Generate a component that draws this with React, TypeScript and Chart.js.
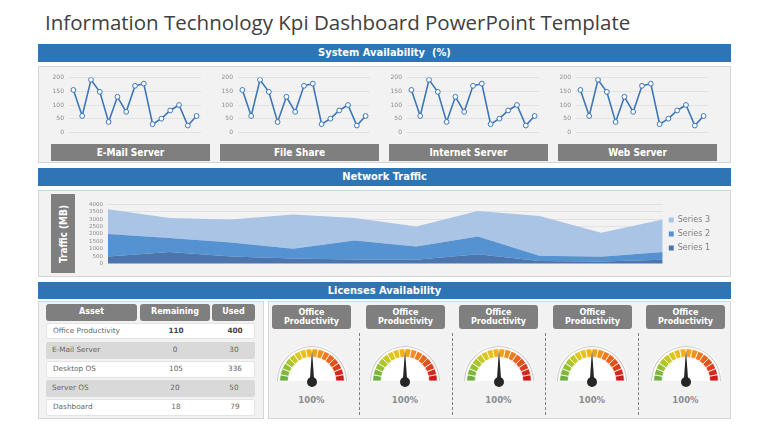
import React, { useEffect, useRef } from "react";
import { Chart, registerables } from "chart.js";

Chart.register(...registerables);
Chart.defaults.font.family = "DejaVu Sans";

// ---------- data ----------
const serverNames = ["E-Mail Server", "File Share", "Internet Server", "Web Server"];
const availabilityLabels = ["1", "2", "3", "4", "5", "6", "7", "8", "9", "10", "11", "12", "13", "14", "15"];
const availabilityValues = [155, 60, 192, 148, 38, 130, 75, 170, 178, 30, 50, 80, 100, 25, 60];

const trafficLabels = ["1", "2", "3", "4", "5", "6", "7", "8", "9", "10"];
const trafficSeries1 = [490, 780, 490, 350, 290, 270, 640, 190, 140, 270];
const trafficSeries2 = [1510, 950, 930, 660, 1280, 880, 1190, 340, 330, 510];
const trafficSeries3 = [1670, 1340, 1550, 2310, 1500, 1360, 1720, 2690, 1610, 2190];
const trafficSeriesNames = ["Series 1", "Series 2", "Series 3"];

const tableHeaders = ["Asset", "Remaining", "Used"];
const licenseAssets = ["Office Productivity", "E-Mail Server", "Desktop OS", "Server OS", "Dashboard"];
const licenseRemaining = [110, 0, 105, 20, 18];
const licenseUsed = [400, 30, 336, 50, 79];

const gaugeTitles = ["Office Productivity", "Office Productivity", "Office Productivity", "Office Productivity", "Office Productivity"];
const gaugeReadings = ["100%", "100%", "100%", "100%", "100%"];
const gaugeNeedle = [50, 50, 50, 50, 50];
const gaugeSegments = [1, 1, 1, 1, 1, 1, 1, 1, 1, 1, 1, 1, 1, 1, 1, 1];
const gaugeColors = [
  "#6fae45", "#7fb73c", "#95c033", "#aec52d", "#c6c92a", "#dbc624", "#eabf1d", "#f3b21a",
  "#f5a21b", "#f2901d", "#ee7c1f", "#e8671f", "#e2521e", "#dc3e1c", "#d52a1a", "#cc1b1b",
];

// ---------- styles ----------
const BLUE = "#2e75b6";
const GRAY = "#7f7f7f";
const PANEL = "#f2f2f2";
const PANEL_BORDER = "#d6d6d6";
const NARROW = '"Liberation Sans Narrow", "DejaVu Sans Condensed", sans-serif';

function ChartCanvas({ config, style }: { config: () => any; style: React.CSSProperties }) {
  const ref = useRef<HTMLCanvasElement>(null);
  useEffect(() => {
    const chart = new Chart(ref.current as HTMLCanvasElement, config());
    return () => chart.destroy();
  }, []);
  return (
    <div style={{ position: "absolute", ...style }}>
      <canvas ref={ref} />
    </div>
  );
}

const lineConfig = () => ({
  type: "line",
  data: {
    labels: availabilityLabels,
    datasets: [
      {
        data: availabilityValues,
        borderColor: "#3b76b8",
        borderWidth: 1.6,
        pointRadius: 2.4,
        pointBackgroundColor: "#ffffff",
        pointBorderColor: "#3b76b8",
        pointBorderWidth: 1,
        tension: 0,
      },
    ],
  },
  options: {
    animation: false,
    responsive: true,
    maintainAspectRatio: false,
    layout: { padding: { top: 6.5, bottom: 5, right: 4, left: 0 } },
    plugins: { legend: { display: false }, tooltip: { enabled: false } },
    scales: {
      x: { display: false, offset: true },
      y: {
        min: 0,
        max: 200,
        ticks: { stepSize: 50, autoSkip: false, font: { size: 6 }, color: "#8c8c8c", padding: 5 },
        grid: { color: "#e2e2e2", drawTicks: false },
        border: { display: false },
        afterFit: (s: any) => {
          s.width = 25;
        },
      },
    },
  },
});

const areaConfig = () => ({
  type: "line",
  data: {
    labels: trafficLabels,
    datasets: [
      { label: trafficSeriesNames[0], data: trafficSeries1, backgroundColor: "#4a76ad", borderColor: "#4a76ad", fill: "origin" },
      { label: trafficSeriesNames[1], data: trafficSeries2, backgroundColor: "#5592d2", borderColor: "#5592d2", fill: "-1" },
      { label: trafficSeriesNames[2], data: trafficSeries3, backgroundColor: "#aac4e6", borderColor: "#aac4e6", fill: "-1" },
    ].map((d) => ({ ...d, borderWidth: 0, pointRadius: 0, tension: 0 })),
  },
  options: {
    animation: false,
    responsive: true,
    maintainAspectRatio: false,
    layout: { padding: { top: 5.7, bottom: 5.7, right: 10, left: 0 } },
    plugins: {
      tooltip: { enabled: false },
      legend: {
        position: "right",
        reverse: true,
        labels: { boxWidth: 5, boxHeight: 5, padding: 6, color: "#7f7f7f", font: { size: 8 } },
      },
    },
    scales: {
      x: { display: false },
      y: {
        stacked: true,
        min: 0,
        max: 4000,
        ticks: {
          stepSize: 500,
          autoSkip: false,
          font: { size: 5.5 },
          color: "#8c8c8c",
          padding: 5,
          callback: (v: any) => String(v),
        },
        grid: { color: "#e2e2e2", drawTicks: false },
        border: { display: false },
        afterFit: (s: any) => {
          s.width = 30;
        },
      },
    },
  },
});

const gaugePlugin = {
  id: "gaugeDecor",
  beforeDatasetsDraw(chart: any) {
    const m = chart.getDatasetMeta(0).data[0];
    if (!m) return;
    const ctx = chart.ctx;
    ctx.save();
    ctx.fillStyle = "#ffffff";
    ctx.beginPath();
    ctx.arc(m.x, m.y, m.outerRadius + 1, Math.PI, 2 * Math.PI);
    ctx.closePath();
    ctx.fill();
    ctx.restore();
  },
  afterDatasetsDraw(chart: any, _args: any, opts: any) {
    const m = chart.getDatasetMeta(2).data[0];
    if (!m) return;
    const ctx = chart.ctx;
    const cx = m.x;
    const cy = m.y;
    const ang = Math.PI + (opts.value / 100) * Math.PI;
    const len = m.outerRadius - 1;
    const w = 2.2;
    ctx.save();
    ctx.fillStyle = "#262626";
    ctx.beginPath();
    ctx.moveTo(cx + Math.cos(ang) * len, cy + Math.sin(ang) * len);
    ctx.lineTo(cx + Math.cos(ang + Math.PI / 2) * w, cy + Math.sin(ang + Math.PI / 2) * w);
    ctx.lineTo(cx + Math.cos(ang - Math.PI / 2) * w, cy + Math.sin(ang - Math.PI / 2) * w);
    ctx.closePath();
    ctx.fill();
    ctx.beginPath();
    ctx.arc(cx, cy + 1, 5, 0, 2 * Math.PI);
    ctx.fill();
    ctx.restore();
  },
};

const gaugeConfig = (i: number) => () => ({
  type: "doughnut",
  data: {
    labels: gaugeSegments.map((_, k) => String(k + 1)),
    datasets: [
      { data: [1], backgroundColor: ["#c8c8c8"], borderWidth: 0, weight: 0.12 },
      { data: [1], backgroundColor: ["rgba(0,0,0,0)"], borderWidth: 0, weight: 0.2 },
      { data: gaugeSegments, backgroundColor: gaugeColors, borderColor: "#ffffff", borderWidth: 0.8, weight: 1 },
    ],
  },
  options: {
    animation: false,
    responsive: true,
    maintainAspectRatio: false,
    rotation: -90,
    circumference: 180,
    cutout: "68%",
    layout: { padding: { top: 0, bottom: 8, left: 0, right: 0 } },
    plugins: { legend: { display: false }, tooltip: { enabled: false }, gaugeDecor: { value: gaugeNeedle[i] } },
  },
  plugins: [gaugePlugin],
});

const abs = (s: React.CSSProperties): React.CSSProperties => ({ position: "absolute", boxSizing: "border-box", ...s });

function BlueBar({ top, height, text }: { top: number; height: number; text: string }) {
  return (
    <div
      style={abs({
        left: 38,
        top,
        width: 693,
        height,
        background: BLUE,
        color: "#fff",
        fontFamily: NARROW,
        fontWeight: 700,
        fontSize: 11,
        lineHeight: `${height}px`,
        textAlign: "center",
        whiteSpace: "pre",
      })}
    >
      {text}
    </div>
  );
}

const gaugeCenters = [311.5, 405, 498.5, 592, 685.5];
const gaugeBoxLefts = [272, 366, 459, 553, 646];
const separatorsX = [359, 452, 545, 638];
const rowTops = [322.5, 342, 361, 380, 399];

export default function App() {
  return (
    <div style={abs({ left: 0, top: 0, width: 768, height: 432, background: "#ffffff", overflow: "hidden", fontFamily: "DejaVu Sans" })}>
      <div
        style={abs({
          left: 45,
          top: 7.5,
          fontFamily: '"Open Sans", sans-serif',
          fontSize: 20.5,
          color: "#404040",
          whiteSpace: "nowrap",
        })}
      >
        Information Technology Kpi Dashboard PowerPoint Template
      </div>

      <BlueBar top={44} height={18} text="System Availability  (%)" />
      <div style={abs({ left: 38, top: 66, width: 693, height: 97, background: PANEL, border: `1px solid ${PANEL_BORDER}` })} />
      {serverNames.map((n, i) => (
        <React.Fragment key={n}>
          <ChartCanvas config={lineConfig} style={{ left: 44 + i * 169, top: 69, width: 162, height: 72 }} />
          <div
            style={abs({
              left: 51 + i * 169,
              top: 144,
              width: 159,
              height: 17,
              background: GRAY,
              color: "#fff",
              fontFamily: "DejaVu Sans Condensed",
              fontWeight: 700,
              fontSize: 10,
              lineHeight: "17px",
              textAlign: "center",
            })}
          >
            {n}
          </div>
        </React.Fragment>
      ))}

      <BlueBar top={168} height={18} text="Network Traffic" />
      <div style={abs({ left: 38, top: 190, width: 693, height: 87, background: PANEL, border: `1px solid ${PANEL_BORDER}` })} />
      <div style={abs({ left: 51, top: 194, width: 24, height: 79, background: GRAY })}>
        <div
          style={abs({
            left: 12,
            top: 39.5,
            transform: "translate(-50%, -50%) rotate(-90deg)",
            color: "#fff",
            fontFamily: "DejaVu Sans Condensed",
            fontWeight: 700,
            fontSize: 10,
            whiteSpace: "nowrap",
          })}
        >
          Traffic (MB)
        </div>
      </div>
      <ChartCanvas config={areaConfig} style={{ left: 78, top: 196, width: 652, height: 76 }} />

      <BlueBar top={282} height={17} text="Licenses Availability" />
      <div style={abs({ left: 38, top: 301, width: 226, height: 118, background: PANEL, border: `1px solid ${PANEL_BORDER}` })} />
      <div style={abs({ left: 268, top: 301, width: 463, height: 118, background: PANEL, border: `1px solid ${PANEL_BORDER}` })} />

      {tableHeaders.map((h, k) => {
        const lefts = [46, 140, 212];
        const widths = [91, 70, 43];
        return (
          <div
            key={h}
            style={abs({
              left: lefts[k],
              top: 304,
              width: widths[k],
              height: 16.5,
              background: GRAY,
              borderRadius: 3,
              color: "#fff",
              fontWeight: 700,
              fontSize: 8,
              lineHeight: "16.5px",
              textAlign: "center",
            })}
          >
            {h}
          </div>
        );
      })}
      {licenseAssets.map((a, r) => (
        <div
          key={a}
          style={abs({
            left: 46,
            top: rowTops[r],
            width: 209,
            height: 16.5,
            background: r % 2 === 1 ? "#d9d9d9" : "#ffffff",
            border: r % 2 === 1 ? "none" : "1px solid #e4e4e4",
            borderRadius: 2,
            fontSize: 7.3,
            color: "#666",
            lineHeight: "16.5px",
          })}
        >
          <span style={abs({ left: 6, top: r % 2 === 1 ? 0 : -1 })}>{a}</span>
          <span style={abs({ left: 129, width: 0, top: r % 2 === 1 ? 0 : -1, display: "flex", justifyContent: "center", fontWeight: r === 0 ? 700 : 400, color: r === 0 ? "#444" : "#666" })}>
            <span style={{ whiteSpace: "nowrap" }}>{licenseRemaining[r]}</span>
          </span>
          <span style={abs({ left: 188, width: 0, top: r % 2 === 1 ? 0 : -1, display: "flex", justifyContent: "center", fontWeight: r === 0 ? 700 : 400, color: r === 0 ? "#444" : "#666" })}>
            <span style={{ whiteSpace: "nowrap" }}>{licenseUsed[r]}</span>
          </span>
        </div>
      ))}

      {gaugeTitles.map((t, i) => (
        <React.Fragment key={i}>
          <div
            style={abs({
              left: gaugeBoxLefts[i],
              top: 305,
              width: 79,
              height: 24,
              background: GRAY,
              borderRadius: 3,
              color: "#fff",
              fontWeight: 700,
              fontSize: 8,
              lineHeight: "9.5px",
              textAlign: "center",
              paddingTop: 2.5,
            })}
          >
            {t.split(" ").map((w) => (
              <div key={w}>{w}</div>
            ))}
          </div>
          <ChartCanvas config={gaugeConfig(i)} style={{ left: gaugeCenters[i] - 35, top: 346, width: 70, height: 43 }} />
          <div
            style={abs({
              left: gaugeCenters[i] - 30,
              top: 395,
              width: 60,
              textAlign: "center",
              fontWeight: 700,
              fontSize: 8.5,
              color: "#8c8c8c",
            })}
          >
            {gaugeReadings[i]}
          </div>
        </React.Fragment>
      ))}
      {separatorsX.map((x) => (
        <div key={x} style={abs({ left: x, top: 333, width: 1, height: 82, borderLeft: "1px dashed #808080" })} />
      ))}
    </div>
  );
}
